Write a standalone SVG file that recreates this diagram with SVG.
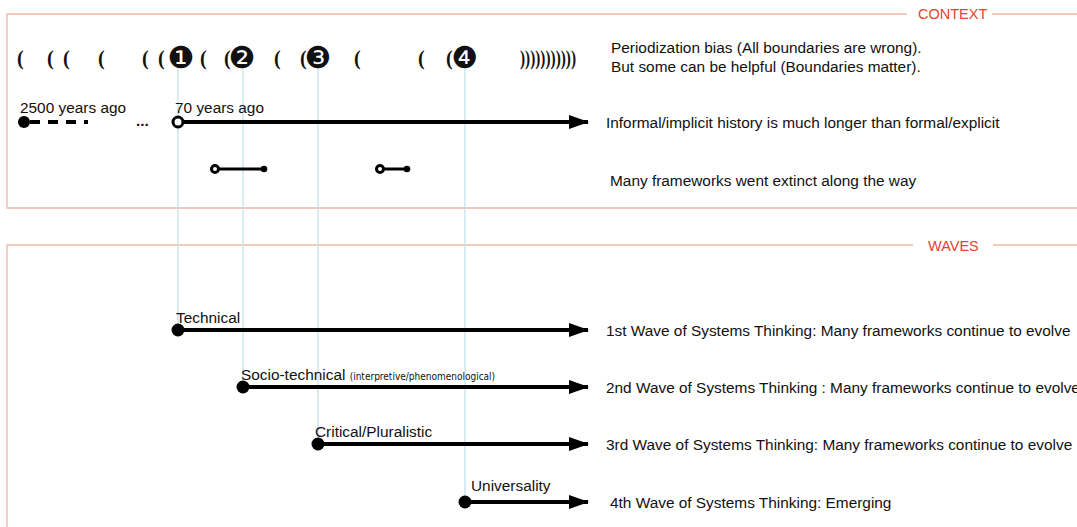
<svg xmlns="http://www.w3.org/2000/svg" width="1077" height="527" viewBox="0 0 1077 527">
  <style>
    .frame { fill: none; stroke: #ebb9aa; stroke-width: 1.3; }
    .section { font-family: "Liberation Sans", Arial, sans-serif; font-size: 14.5px; fill: #e8432a; }
    .guide { stroke: #bfdfea; stroke-width: 1.2; }
    .txt { font-family: "Liberation Sans", Arial, sans-serif; font-size: 15.4px; fill: #111; }
    .lbl { font-family: "Liberation Sans", Arial, sans-serif; font-size: 15.4px; fill: #111; }
    .small { font-family: "DejaVu Sans Condensed", "DejaVu Sans", sans-serif; font-size: 10px; fill: #111; }
    .paren { font-family: "Liberation Serif", "Times New Roman", serif; font-weight: bold; font-size: 20px; fill: #111; }
    .num { font-family: "DejaVu Sans", sans-serif; font-size: 30px; fill: #111; text-anchor: middle; }
    .axis { stroke: #000; stroke-width: 4; fill: none; }
    .seg { stroke: #000; stroke-width: 3; fill: none; }
    .dot { fill: #000; }
    .ring { fill: #fff; stroke: #000; stroke-width: 3; }
  </style>
  <defs>
    <marker id="head" viewBox="0 0 20 14" refX="19" refY="7" markerWidth="20" markerHeight="14" markerUnits="userSpaceOnUse" orient="auto">
      <path d="M0,0 L20,7 L0,14 Z" fill="#000"/>
    </marker>
  </defs>
  <rect width="1077" height="527" fill="#fff"/>

  <!-- section frames -->
  <g id="context-frame">
    <path class="frame" d="M907,14 H7 V208 H1077"/>
    <path class="frame" d="M992,14 H1077"/>
    <text class="section" x="918" y="19">CONTEXT</text>
  </g>
  <g id="waves-frame">
    <path class="frame" d="M913,245 H7 V527"/>
    <path class="frame" d="M993,245 H1077"/>
    <text class="section" x="928" y="251">WAVES</text>
  </g>

  <!-- guide lines from the numbered boundaries -->
  <g id="guides">
    <line class="guide" x1="178" y1="68" x2="178" y2="330"/>
    <line class="guide" x1="243" y1="68" x2="243" y2="387"/>
    <line class="guide" x1="318" y1="68" x2="318" y2="444"/>
    <line class="guide" x1="465" y1="68" x2="465" y2="502"/>
  </g>

  <!-- boundary marks row -->
  <g id="boundaries">
    <text class="paren" x="17" y="65">(</text>
    <text class="paren" x="47" y="65">(</text>
    <text class="paren" x="63" y="65">(</text>
    <text class="paren" x="98" y="65">(</text>
    <text class="paren" x="142" y="65">(</text>
    <text class="paren" x="158" y="65">(</text>
    <text class="num" x="181" y="68">❶</text>
    <text class="paren" x="200" y="65">(</text>
    <text class="paren" x="224" y="65">(</text>
    <text class="num" x="242" y="68">❷</text>
    <text class="paren" x="274" y="65">(</text>
    <text class="paren" x="300" y="65">(</text>
    <text class="num" x="318" y="68">❸</text>
    <text class="paren" x="354" y="65">(</text>
    <text class="paren" x="418" y="65">(</text>
    <text class="paren" x="446" y="65">(</text>
    <text class="num" x="465" y="68">❹</text>
    <text class="paren" x="520" y="65" textLength="56" lengthAdjust="spacingAndGlyphs">)))))))))))</text>
  </g>
  <g id="note-periodization">
    <text class="txt" x="611" y="53">Periodization bias (All boundaries are wrong).</text>
    <text class="txt" x="611" y="72">But some can be helpful (Boundaries matter).</text>
  </g>

  <!-- history line -->
  <g id="history">
    <text class="lbl" x="20" y="113">2500 years ago</text>
    <text class="lbl" x="175" y="113">70 years ago</text>
    <line class="axis" x1="30" y1="122" x2="88" y2="122" stroke-dasharray="10,8"/>
    <circle class="dot" cx="24" cy="122" r="6"/>
    <text class="lbl" x="136" y="126" font-weight="bold">...</text>
  </g>

  <g id="connectors">
    <line class="axis" x1="178" y1="122" x2="588" y2="122" marker-end="url(#head)"/>
    <line class="seg" x1="215" y1="169" x2="264" y2="169"/>
    <line class="seg" x1="380" y1="169" x2="407" y2="169"/>
    <line class="axis" x1="178" y1="330" x2="588" y2="330" marker-end="url(#head)"/>
    <line class="axis" x1="243" y1="387" x2="588" y2="387" marker-end="url(#head)"/>
    <line class="axis" x1="318" y1="444" x2="588" y2="444" marker-end="url(#head)"/>
    <line class="axis" x1="465" y1="502" x2="588" y2="502" marker-end="url(#head)"/>
  </g>

  <g id="history-start">
    <circle class="ring" cx="178" cy="122" r="5"/>
  </g>
  <g id="note-history">
    <text class="txt" x="606" y="128">Informal/implicit history is much longer than formal/explicit</text>
  </g>

  <g id="extinct-1">
    <circle class="ring" cx="215" cy="169" r="3.5"/>
    <circle class="dot" cx="264" cy="169" r="3.3"/>
  </g>
  <g id="extinct-2">
    <circle class="ring" cx="380" cy="169" r="3.5"/>
    <circle class="dot" cx="407" cy="169" r="3.3"/>
  </g>
  <g id="note-extinct">
    <text class="txt" x="610" y="186">Many frameworks went extinct along the way</text>
  </g>

  <!-- waves -->
  <g id="wave-1">
    <circle class="dot" cx="178" cy="330" r="6.5"/>
    <text class="lbl" x="176" y="323">Technical</text>
    <text class="txt" x="606" y="336">1st Wave of Systems Thinking: Many frameworks continue to evolve</text>
  </g>
  <g id="wave-2">
    <circle class="dot" cx="243" cy="387" r="6.5"/>
    <text class="lbl" x="241" y="380">Socio-technical <tspan class="small">(interpretive/phenomenological)</tspan></text>
    <text class="txt" x="606" y="393">2nd Wave of Systems Thinking : Many frameworks continue to evolve</text>
  </g>
  <g id="wave-3">
    <circle class="dot" cx="318" cy="444" r="6.5"/>
    <text class="lbl" x="315" y="437">Critical/Pluralistic</text>
    <text class="txt" x="606" y="450">3rd Wave of Systems Thinking: Many frameworks continue to evolve</text>
  </g>
  <g id="wave-4">
    <circle class="dot" cx="465" cy="502" r="6.5"/>
    <text class="lbl" x="471" y="491">Universality</text>
    <text class="txt" x="610" y="508">4th Wave of Systems Thinking: Emerging</text>
  </g>
</svg>
